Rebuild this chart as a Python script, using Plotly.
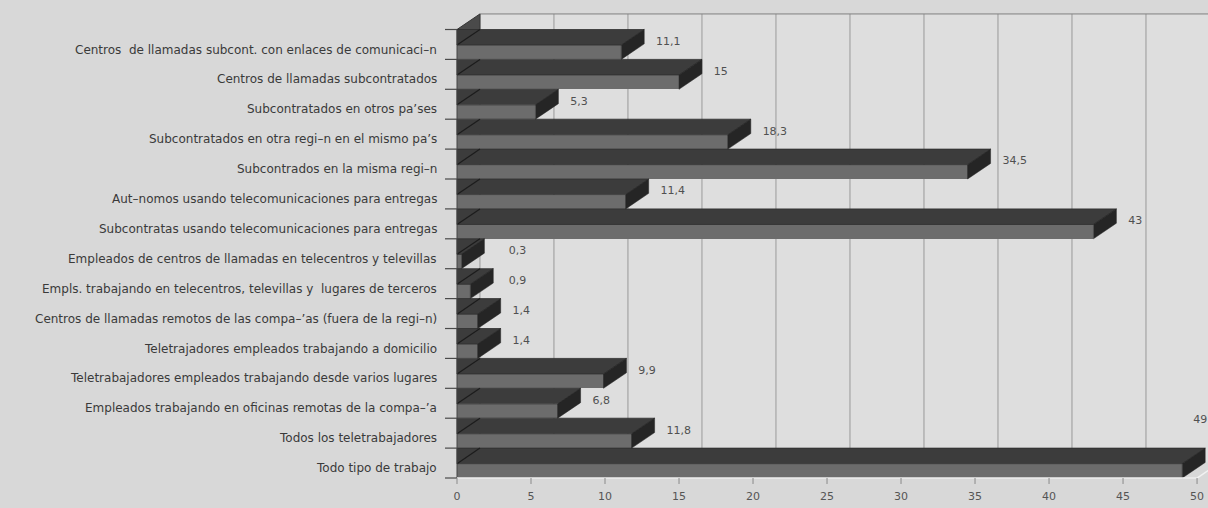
import plotly.graph_objects as go

# ---------------- data ----------------
categories = [
    "Centros  de llamadas subcont. con enlaces de comunicaci–n",
    "Centros de llamadas subcontratados",
    "Subcontratados en otros pa’ses",
    "Subcontratados en otra regi–n en el mismo pa’s",
    "Subcontrados en la misma regi–n",
    "Aut–nomos usando telecomunicaciones para entregas",
    "Subcontratas usando telecomunicaciones para entregas",
    "Empleados de centros de llamadas en telecentros y televillas",
    "Empls. trabajando en telecentros, televillas y  lugares de terceros",
    "Centros de llamadas remotos de las compa–’as (fuera de la regi–n)",
    "Teletrajadores empleados trabajando a domicilio",
    "Teletrabajadores empleados trabajando desde varios lugares",
    "Empleados trabajando en oficinas remotas de la compa–’a",
    "Todos los teletrabajadores",
    "Todo tipo de trabajo",
]
values = [11.1, 15, 5.3, 18.3, 34.5, 11.4, 43, 0.3, 0.9, 1.4, 1.4, 9.9, 6.8, 11.8, 49]
value_labels = ["11,1", "15", "5,3", "18,3", "34,5", "11,4", "43", "0,3", "0,9",
                "1,4", "1,4", "9,9", "6,8", "11,8", "49"]
x_ticks = [0, 5, 10, 15, 20, 25, 30, 35, 40, 45, 50]

# ---------------- geometry / style ----------------
DX = 1.55      # 3D depth offset along value axis
DY = 0.52      # 3D depth offset in row units
FT = 0.52      # front-face top within a row
X_MIN = -0.811
X_MAX = 50.74
Y_TOP = -0.652
Y_BOT = 15.334

FRONT_COL = "#6c6c6c"
TOP_COL = "#3c3c3c"
SIDE_COL = "#252525"
PAPER = "#d8d8d8"
WALL = "#dedede"
FONT = "DejaVu Sans"

n = len(categories)
rows = list(range(n))


def add_lines(xs, ys, color, width, **kw):
    fig.add_trace(go.Scatter(x=xs, y=ys, mode="lines", line=dict(color=color, width=width),
                             hoverinfo="skip", showlegend=False, **kw))


fig = go.Figure()

# back wall, its gridlines and top edge (all below the traces)
fig.add_shape(type="rect", xref="x", yref="y", x0=DX, x1=X_MAX + 1, y0=-DY, y1=n - DY,
              fillcolor=WALL, line=dict(width=0), layer="below")
for t in [0] + x_ticks[1:]:
    fig.add_shape(type="line", xref="x", yref="y", x0=t + DX, x1=t + DX, y0=-DY, y1=n - DY,
                  line=dict(color="#9a9a9a", width=1), layer="below")
fig.add_shape(type="line", xref="x", yref="y", x0=DX, x1=X_MAX + 1, y0=-DY, y1=-DY,
              line=dict(color="#808080", width=1), layer="below")

# left wall top wedge
fig.add_trace(go.Scatter(x=[0, DX, DX, 0], y=[0, -DY, 0, 0], mode="lines", fill="toself",
                         fillcolor="#4a4a4a", line=dict(color="#333", width=1),
                         hoverinfo="skip", showlegend=False))

# front faces (bars)
fig.add_trace(go.Bar(x=values, y=[r + (FT + 1) / 2 for r in rows], width=1 - FT,
                     orientation="h", base=0, marker=dict(color=FRONT_COL, line=dict(width=0)),
                     hoverinfo="skip", showlegend=False))

# top faces
tx, ty = [], []
for r, v in zip(rows, values):
    tx += [0, 0, v, v + DX, 0, None]
    ty += [r, r + FT, r + FT, r, r, None]
fig.add_trace(go.Scatter(x=tx, y=ty, mode="lines", fill="toself", fillcolor=TOP_COL,
                         line=dict(color="#2e2e2e", width=0.8), hoverinfo="skip", showlegend=False))

# side faces
sx, sy = [], []
for r, v in zip(rows, values):
    sx += [v, v + DX, v + DX, v, v, None]
    sy += [r + FT, r, r + 1 - DY, r + 1, r + FT, None]
fig.add_trace(go.Scatter(x=sx, y=sy, mode="lines", fill="toself", fillcolor=SIDE_COL,
                         line=dict(color=SIDE_COL, width=0.5), hoverinfo="skip", showlegend=False))

# slanted left edges of the top faces
lx, ly = [], []
for r in rows:
    lx += [0, DX, None]
    ly += [r + FT, r, None]
add_lines(lx, ly, "#1c1c1c", 1.2)

# floor right edge
add_lines([50, 50 + DX], [n, n - DY], "#f2f2f2", 1.5)

# axis lines
add_lines([0, 0], [0, n], "#444444", 1)          # category axis
add_lines([0, 50], [n, n], "#eeeeee", 1.5)      # value axis

# category boundary ticks
kx, ky = [], []
for b in range(n + 1):
    kx += [X_MIN, 0, None]
    ky += [b, b, None]
add_lines(kx, ky, "#4a4a4a", 1.2)

# value ticks
vx, vy = [], []
for t in x_ticks:
    vx += [t, t, None]
    vy += [n, n + 0.2, None]
add_lines(vx, vy, "#8a8a8a", 1)

# value labels
lab_x, lab_y, lab_pos = [], [], []
for r, v in zip(rows, values):
    x = max(v + DX + 0.8, 3.5)
    if x + 1.5 > X_MAX:
        lab_x.append(X_MAX - 0.05)
        lab_y.append(r - 0.94)
        lab_pos.append("middle left")
    else:
        lab_x.append(x)
        lab_y.append(r + 0.42)
        lab_pos.append("middle right")
fig.add_trace(go.Scatter(x=lab_x, y=lab_y, mode="text", text=value_labels,
                         textposition=lab_pos, textfont=dict(family=FONT, size=11, color="#505050"),
                         hoverinfo="skip", showlegend=False, cliponaxis=False))

# category labels
for r, name in zip(rows, categories):
    fig.add_annotation(x=0, xref="x", y=r + 0.67, yref="y", text=name, showarrow=False,
                       xanchor="right", yanchor="middle", xshift=-18,
                       font=dict(family=FONT, size=12, color="#3a3a3a"))

fig.update_layout(
    width=1208, height=508,
    margin=dict(l=445, r=0, t=10, b=20),
    paper_bgcolor=PAPER,
    plot_bgcolor=PAPER,
    bargap=0,
    font=dict(family=FONT, size=12, color="#3a3a3a"),
    xaxis=dict(range=[X_MIN, X_MAX], tickvals=x_ticks, ticktext=[str(t) for t in x_ticks],
               showgrid=False, zeroline=False, showline=False, ticks="",
               tickfont=dict(family=FONT, size=11, color="#555555")),
    yaxis=dict(range=[Y_BOT, Y_TOP], showticklabels=False, ticks="",
               showgrid=False, zeroline=False, showline=False),
)

fig.write_html("out.html")
